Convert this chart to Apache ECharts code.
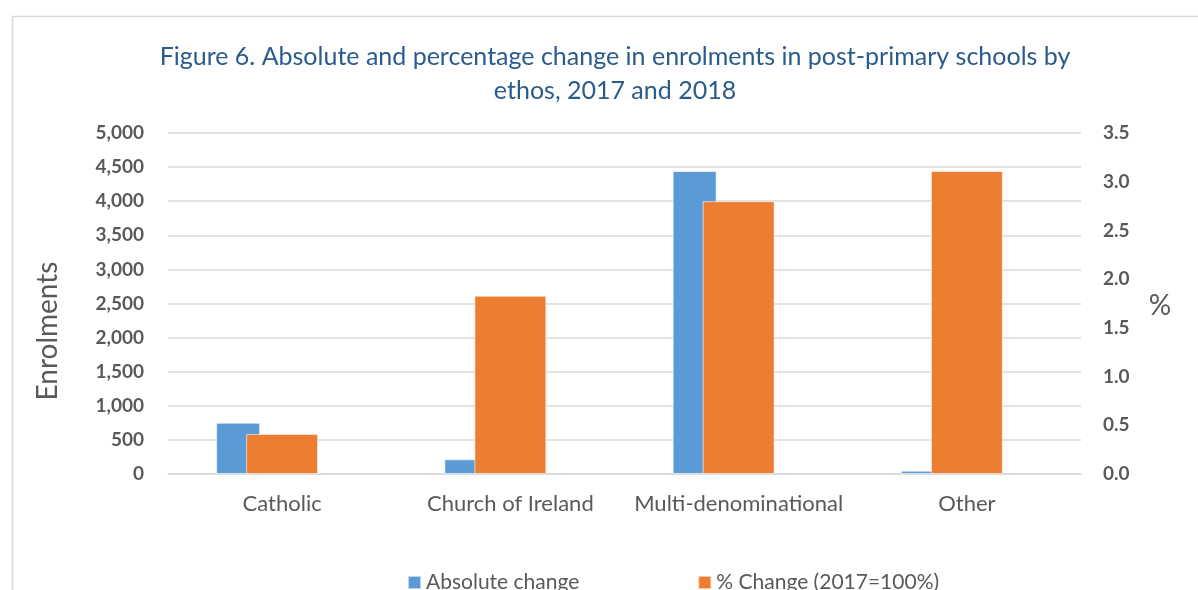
<!DOCTYPE html>
<html>
<head>
<meta charset="utf-8">
<style>
  html, body { margin: 0; padding: 0; background: #fff; }
  #chart { width: 1198px; height: 590px; }
</style>
<script src="https://cdn.jsdelivr.net/npm/echarts@6/dist/echarts.min.js"></script>
</head>
<body>
<div id="chart"></div>
<script>
// Ethos categories and the change in enrolments between 2017 and 2018
const categories = ['Catholic', 'Church of Ireland', 'Multi-denominational', 'Other'];
const absoluteChange = [752, 215, 4443, 48];
const percentChange = [0.41, 1.83, 2.80, 3.11];
const seriesNames = ['Absolute change', '% Change (2017=100%)'];
const titleText = 'Figure 6. Absolute and percentage change in enrolments in post-primary schools by\nethos, 2017 and 2018';

const FONT = 'Lato, "Open Sans", sans-serif';
const GREY = '#595959';

const chart = echarts.init(document.getElementById('chart'), null, { renderer: 'canvas' });

chart.setOption({
  animation: false,
  textStyle: { fontFamily: FONT },
  graphic: [{
    type: 'rect',
    left: 10, top: 14,
    shape: { width: 1400, height: 800 },
    style: { fill: 'none', stroke: '#d9d9d9', lineWidth: 1.5 },
    silent: true, z: -10
  }, {
    type: 'text',
    x: 48, y: 331,
    rotation: Math.PI / 2,
    style: {
      text: 'Enrolments', fill: GREY,
      font: '28px ' + FONT,
      align: 'center', verticalAlign: 'middle'
    },
    silent: true
  }, {
    type: 'text',
    x: 1160, y: 306,
    style: {
      text: '%', fill: GREY,
      font: '28px ' + FONT,
      align: 'center', verticalAlign: 'middle'
    },
    silent: true
  }],
  title: {
    text: titleText,
    left: 610, top: 35,
    textAlign: 'center',
    textStyle: { fontFamily: FONT, fontSize: 25, fontWeight: 'normal', color: '#2A5B8C', lineHeight: 34 }
  },
  legend: {
    data: seriesNames,
    left: 402, top: 567,
    icon: 'rect',
    itemWidth: 13, itemHeight: 13,
    itemGap: 118,
    textStyle: { fontFamily: FONT, fontSize: 21, color: GREY }
  },
  grid: { left: 168, right: 117, top: 133, bottom: 116, containLabel: false },
  xAxis: [{
    type: 'category',
    data: categories,
    axisLine: { lineStyle: { color: '#d9d9d9', width: 1.5 } },
    axisTick: { show: false },
    axisLabel: { interval: 0, fontFamily: FONT, fontSize: 22, color: GREY, margin: 19 }
  }, {
    type: 'category',
    data: categories,
    show: false
  }],
  yAxis: [{
    type: 'value',
    min: 0, max: 5000, interval: 500,
    axisLine: { show: false },
    axisTick: { show: false },
    splitLine: { lineStyle: { color: '#d9d9d9', width: 1.5 } },
    axisLabel: {
      fontFamily: FONT, fontSize: 19, fontWeight: 'bold', color: GREY, margin: 24,
      formatter: v => v.toLocaleString('en-US')
    }
  }, {
    type: 'value',
    min: 0, max: 3.5, interval: 0.5,
    axisLine: { show: false },
    axisTick: { show: false },
    splitLine: { show: false },
    axisLabel: {
      fontFamily: FONT, fontSize: 19, fontWeight: 'bold', color: GREY, margin: 22,
      formatter: v => v.toFixed(1)
    }
  }],
  series: [{
    name: seriesNames[0],
    type: 'bar',
    xAxisIndex: 0, yAxisIndex: 0,
    data: absoluteChange,
    barWidth: 44,
    barGap: '0%',
    itemStyle: { color: '#5B9BD5', borderColor: 'rgba(255,255,255,0.6)', borderWidth: 1 }
  }, {
    // empty slot that keeps the blue column to the left of each category centre
    name: 'spacer',
    type: 'bar',
    xAxisIndex: 0, yAxisIndex: 0,
    data: categories.map(() => '-'),
    barWidth: 88,
    silent: true
  }, {
    name: seriesNames[1],
    type: 'bar',
    xAxisIndex: 1, yAxisIndex: 1,
    data: percentChange,
    barWidth: 72,
    z: 3,
    itemStyle: { color: '#ED7D31', borderColor: 'rgba(255,255,255,0.6)', borderWidth: 1 }
  }]
});
</script>
</body>
</html>
